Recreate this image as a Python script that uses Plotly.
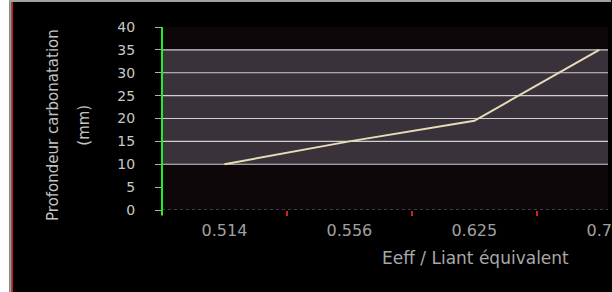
import plotly.graph_objects as go

categories = ["0.514", "0.556", "0.625", "0.7"]
depth_mm = [10, 15, 19.5, 35]
y_ticks = [0, 5, 10, 15, 20, 25, 30, 35, 40]
grid_vals = [10, 15, 20, 25, 30, 35]

L, T, W, H = 162, 27, 612, 292
PW, PH = W - L, 210 - T

def px(x):
    return (x - L) / PW

def py(y):
    return (210 - y) / PH

fig = go.Figure()
fig.add_trace(go.Scatter(
    x=categories, y=depth_mm, mode="lines",
    line=dict(color="#e6dcb8", width=2),
    showlegend=False, hoverinfo="skip",
))

shapes = []
shapes.append(dict(type="rect", xref="paper", yref="y", x0=0, x1=1, y0=0, y1=40,
                   fillcolor="#0d0709", line_width=0, layer="below"))
shapes.append(dict(type="rect", xref="paper", yref="y", x0=0, x1=1, y0=10, y1=35,
                   fillcolor="#39323a", line_width=0, layer="below"))
for g in grid_vals:
    shapes.append(dict(type="line", xref="paper", yref="y", x0=0, x1=1, y0=g, y1=g,
                       line=dict(color="#d0d0d0", width=1.2), layer="below"))
shapes.append(dict(type="line", xref="paper", yref="y", x0=0, x1=1, y0=0, y1=0,
                   line=dict(color="#7a6a8a", width=1.2, dash="dot")))
shapes.append(dict(type="line", xref="paper", yref="paper", x0=0, x1=0, y0=py(215), y1=1,
                   line=dict(color="#22ee22", width=2)))
# frame on left / top
shapes.append(dict(type="rect", xref="paper", yref="paper", x0=px(-2), x1=px(8), y0=py(300), y1=py(-5),
                   fillcolor="#ffffff", line_width=0))
shapes.append(dict(type="rect", xref="paper", yref="paper", x0=px(8), x1=px(10.3), y0=py(300), y1=py(-5),
                   fillcolor="#a0a0a0", line_width=0))
shapes.append(dict(type="line", xref="paper", yref="paper", x0=px(11), x1=px(11), y0=py(300), y1=py(1),
                   line=dict(color="#dd1111", width=1.2)))
shapes.append(dict(type="line", xref="paper", yref="paper", x0=px(8), x1=px(615), y0=py(1), y1=py(1),
                   line=dict(color="#a0a0a0", width=2)))

annotations = [
    dict(text="Profondeur carbonatation", xref="paper", yref="paper",
         x=px(52), y=py(125), textangle=-90, showarrow=False,
         font=dict(family="DejaVu Sans", size=15, color="#c4c4c4"),
         xanchor="center", yanchor="middle"),
    dict(text="(mm)", xref="paper", yref="paper",
         x=px(83), y=py(125), textangle=-90, showarrow=False,
         font=dict(family="DejaVu Sans", size=15, color="#c4c4c4"),
         xanchor="center", yanchor="middle"),
    dict(text="Eeff / Liant équivalent", xref="paper", yref="paper",
         x=px(478), y=py(258), showarrow=False,
         font=dict(family="DejaVu Sans", size=17, color="#a8a8a8"),
         xanchor="center", yanchor="middle"),
]

fig.update_layout(
    width=W, height=H,
    margin=dict(l=L, r=0, t=T, b=H - 210, pad=0),
    paper_bgcolor="#000000", plot_bgcolor="rgba(0,0,0,0)",
    shapes=shapes, annotations=annotations,
    xaxis=dict(type="category", range=[-0.5, 3.07], tickson="boundaries",
               ticks="outside", ticklen=5, tickcolor="#cc2222", tickwidth=1.5,
               showgrid=False, zeroline=False, showline=False,
               ticklabelstandoff=9,
               tickfont=dict(family="DejaVu Sans", size=16, color="#a0a0a0")),
    yaxis=dict(range=[0, 40], tickvals=y_ticks, ticks="outside", ticklen=6,
               tickcolor="#b0b0b0", showgrid=False, zeroline=False, showline=False,
               ticklabelstandoff=17,
               tickfont=dict(family="DejaVu Sans", size=14, color="#c8c8c8")),
)

fig.write_html("out.html", config={"displayModeBar": False},
               post_script="document.body.style.margin='0';")
